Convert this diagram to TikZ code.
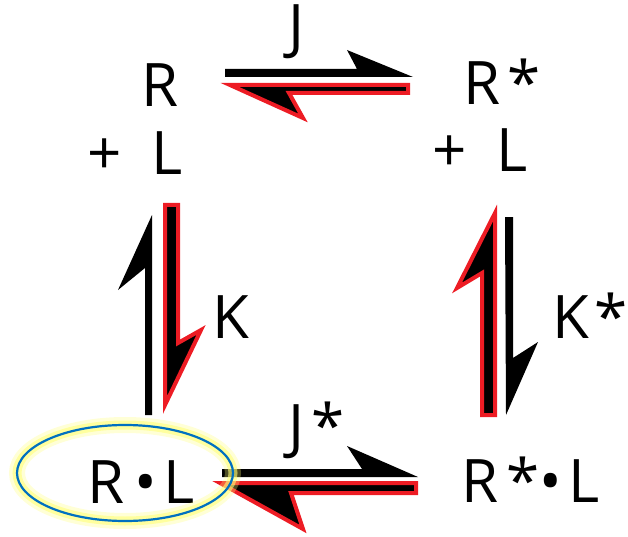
\documentclass[tikz,border=0pt]{standalone}
\usepackage{fontspec}
\setmainfont{Open Sans}
\usepackage{tikz}
\definecolor{bondred}{RGB}{237, 28, 36}
\definecolor{ringblue}{RGB}{0, 112, 192}
\definecolor{glowyellow}{RGB}{255, 255, 120}

\begin{document}
\begin{tikzpicture}[x=1pt, y=-1pt,
    species/.style={inner sep=0pt, anchor=base, font=\fontsize{60}{66}\selectfont},
    harpoon/.style={fill=black},
    redharpoon/.style={fill=black, draw=bondred, line width=4pt}]
    \useasboundingbox (0,0) rectangle (628,537);

    % Free receptor and ligand
    \node[species] (R) at (160,107) {R};
    \node[species] (RpL) at (135,175) {+\hspace{0.5em}L};
    \node[species] (Rs) at (502,105) {R\hspace{0.12em}*};
    \node[species] (RspL) at (480,172) {+\hspace{0.5em}L};

    % Bound complexes
    \node[species] (RL) at (141,503) {R\,•\hspace{0.12em}L};
    \node[species] (RsL) at (531,502) {R\hspace{0.12em}*•\hspace{0.12em}L};

    % Rate constants
    \node[species] (J) at (297,48) {J};
    \node[species] (Js) at (317,447) {J\hspace{0.12em}*};
    \node[species] (K) at (231,338) {K};
    \node[species] (Ks) at (590,338) {K\hspace{0.08em}*};

    % Top equilibrium
    \fill[harpoon] (225,69) -- (357,69) -- (347,50) -- (413,77) -- (225,77) -- cycle;
    \filldraw[redharpoon] (230,85) -- (408,85) -- (408,93) -- (289,93) -- (303,118) -- cycle;

    % Left equilibrium
    \fill[harpoon] (145,415) -- (145,268) -- (118,290) -- (152,215) -- (152,415) -- cycle;
    \filldraw[redharpoon] (165,205) -- (178,205) -- (178,343) -- (201,330) -- (165,405) -- cycle;

    % Right equilibrium
    \filldraw[redharpoon] (482,415) -- (482,273) -- (457,288) -- (495,213) -- (495,415) -- cycle;
    \fill[harpoon] (505,217) -- (513,217) -- (513,358) -- (538,342) -- (506,415) -- cycle;

    % Bottom equilibrium
    \fill[harpoon] (222,469) -- (362,469) -- (347,446) -- (418,477) -- (222,477) -- cycle;
    \filldraw[redharpoon] (220,483) -- (416,483) -- (416,493) -- (291,493) -- (303,529) -- cycle;

    % Highlight round the complex
    \draw[glowyellow, line width=16pt, opacity=0.3] (125,473) ellipse (108 and 48);
    \draw[glowyellow, line width=9pt, opacity=0.6] (125,473) ellipse (108 and 48);
    \draw[ringblue, line width=2.2pt] (125,473) ellipse (108 and 48);
\end{tikzpicture}
\end{document}
